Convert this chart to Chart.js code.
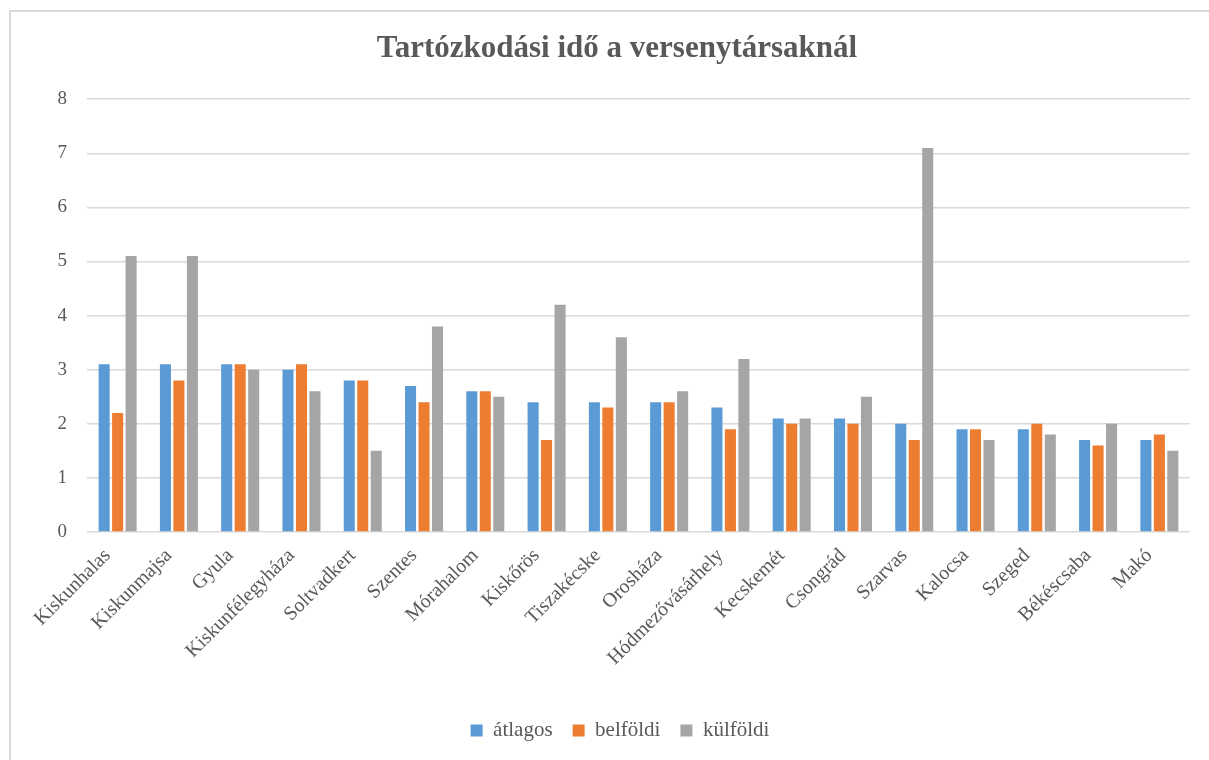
<!DOCTYPE html>
<html>
<head>
<meta charset="utf-8">
<script src="https://cdn.jsdelivr.net/npm/chart.js@4/dist/chart.umd.min.js"></script>
<style>
  html, body { margin: 0; padding: 0; background: #fff; overflow: hidden; }
  .frame {
    position: absolute; left: 9px; top: 10px; width: 1220px; height: 780px;
    border: 2px solid #d9d9d9; box-sizing: border-box;
  }
  .wrap { position: absolute; left: 0; top: 0; width: 1209px; height: 760px; }
</style>
</head>
<body>
<div class="frame"></div>
<div class="wrap"><canvas id="chart" width="1209" height="760"></canvas></div>
<script>
// categories + series
const cities = ['Kiskunhalas', 'Kiskunmajsa', 'Gyula', 'Kiskunfélegyháza', 'Soltvadkert', 'Szentes',
  'Mórahalom', 'Kiskőrös', 'Tiszakécske', 'Orosháza', 'Hódmezővásárhely', 'Kecskemét',
  'Csongrád', 'Szarvas', 'Kalocsa', 'Szeged', 'Békéscsaba', 'Makó'];
const atlagos  = [3.1, 3.1, 3.1, 3.0, 2.8, 2.7, 2.6, 2.4, 2.4, 2.4, 2.3, 2.1, 2.1, 2.0, 1.9, 1.9, 1.7, 1.7];
const belfoldi = [2.2, 2.8, 3.1, 3.1, 2.8, 2.4, 2.6, 1.7, 2.3, 2.4, 1.9, 2.0, 2.0, 1.7, 1.9, 2.0, 1.6, 1.8];
const kulfoldi = [5.1, 5.1, 3.0, 2.6, 1.5, 3.8, 2.5, 4.2, 3.6, 2.6, 3.2, 2.1, 2.5, 7.1, 1.7, 1.8, 2.0, 1.5];
const yTicks = [0, 1, 2, 3, 4, 5, 6, 7, 8];

const serif = "'Liberation Serif', 'DejaVu Serif', serif";
const txt = '#595959';

// nudge legend and title a bit right, like the original
const boxShift = {
  id: 'boxShift',
  afterLayout(chart) {
    if (chart.legend) { chart.legend.left += 20; chart.legend.right += 20; }
    if (chart.titleBlock) { chart.titleBlock.left += 17; chart.titleBlock.right += 17; }
  }
};

const ctx = document.getElementById('chart').getContext('2d');
new Chart(ctx, {
  type: 'bar',
  data: {
    labels: cities,
    datasets: [
      { label: 'átlagos', data: atlagos, backgroundColor: '#5b9bd5' },
      { label: 'belföldi', data: belfoldi, backgroundColor: '#ed7d31' },
      { label: 'külföldi', data: kulfoldi, backgroundColor: '#a5a5a5' }
    ]
  },
  plugins: [boxShift],
  options: {
    responsive: false,
    animation: false,
    layout: { padding: { left: 10, right: 19, top: 10, bottom: 9 } },
    datasets: { bar: { categoryPercentage: 0.66, barPercentage: 0.82 } },
    scales: {
      x: {
        grid: { display: false },
        border: { display: false },
        ticks: {
          color: txt, font: { family: serif, size: 20 },
          minRotation: 45, maxRotation: 45, padding: 4, labelOffset: -10
        },
        afterFit: (scale) => { scale.height = 168; }
      },
      y: {
        min: 0, max: 8,
        afterBuildTicks: (scale) => { scale.ticks = yTicks.map(v => ({ value: v })); },
        grid: { color: '#d9d9d9', lineWidth: 1.5, drawTicks: false },
        border: { display: false },
        ticks: { color: txt, font: { family: serif, size: 19 }, padding: 20 },
        afterFit: (scale) => { scale.width = 77; }
      }
    },
    plugins: {
      title: {
        display: true,
        text: 'Tartózkodási idő a versenytársaknál',
        color: txt,
        font: { family: serif, size: 31, weight: 'bold' },
        padding: { top: 20, bottom: 32 }
      },
      legend: {
        position: 'bottom',
        labels: {
          color: txt, font: { family: serif, size: 21 },
          boxWidth: 12, boxHeight: 12, padding: 20
        }
      },
      tooltip: { enabled: false }
    }
  }
});
</script>
</body>
</html>
